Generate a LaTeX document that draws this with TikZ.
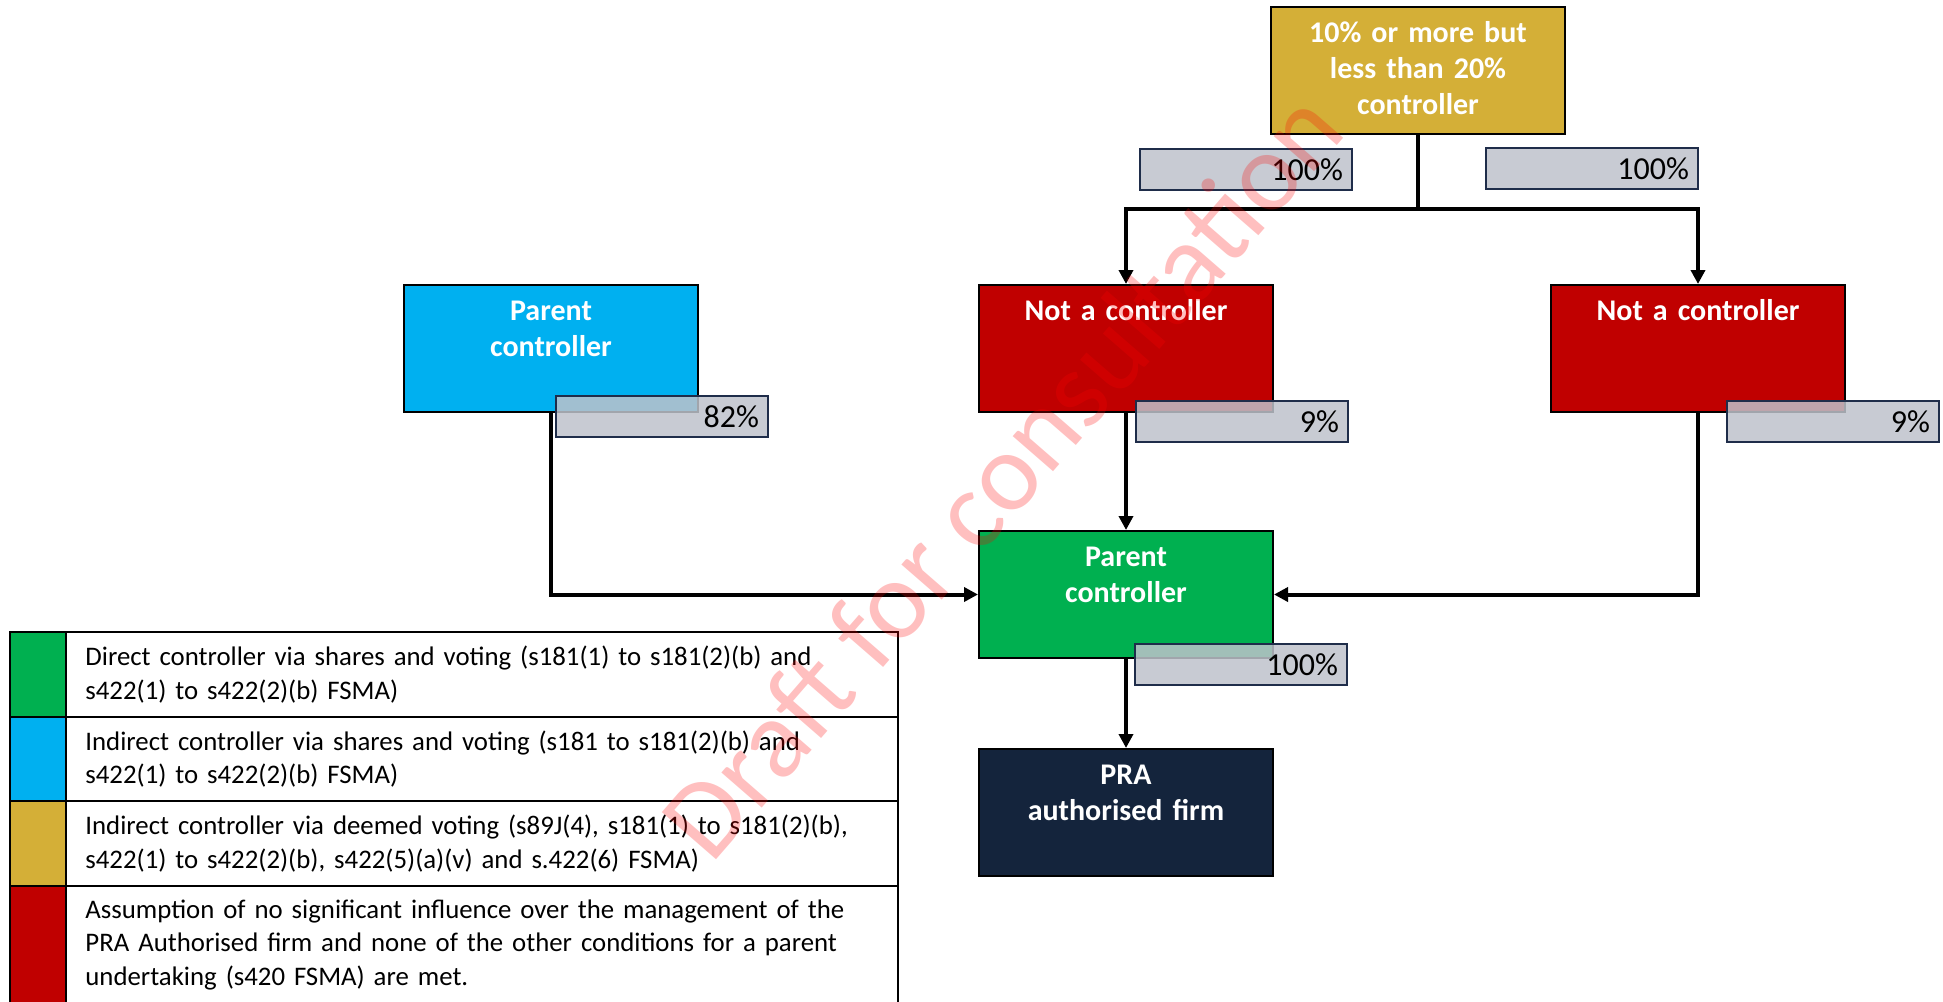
\documentclass[tikz,border=0pt]{standalone}
\usepackage{fontspec}
\setmainfont{Carlito}
\usetikzlibrary{arrows.meta}

\definecolor{ctrlgreen}{HTML}{00B050}
\definecolor{ctrlblue}{HTML}{00B0F0}
\definecolor{ctrlgold}{HTML}{D4AF37}
\definecolor{ctrlred}{HTML}{C00000}
\definecolor{firmnavy}{HTML}{14243C}
\definecolor{pctfill}{RGB}{190,194,203}
\definecolor{pctedge}{HTML}{1F2D4A}

\begin{document}
\begin{tikzpicture}[x=0.5pt,y=-0.5pt,
  entity/.style={draw=black, line width=1pt, minimum width=147pt,
    minimum height=63.5pt, inner sep=0pt, anchor=north west},
  entitytext/.style={text=white, font=\fontsize{15}{18}\selectfont\bfseries,
    align=center, text width=140pt, anchor=base, inner sep=0pt},
  pct/.style={draw=pctedge, line width=1pt, fill=pctfill, fill opacity=0.85,
    text opacity=1, minimum width=106pt, minimum height=20.5pt,
    inner xsep=4.5pt, inner ysep=0pt, text width=97pt, align=right,
    anchor=north west, font=\fontsize{16}{19}\selectfont},
  link/.style={line width=2pt, line join=miter, -{Triangle[length=7pt,width=7pt]}},
  trunk/.style={line width=2pt},
  legtext/.style={font=\fontsize{13.4}{16.75}\selectfont, align=left,
    text width=400pt, anchor=west, inner sep=0pt},
  legrule/.style={line width=1pt}
]
\useasboundingbox (0,0) rectangle (1943,1001);

% ownership chain
\node[entity, fill=ctrlgold] (gold) at (1270,6) {};
\node[entity, fill=ctrlred] (redL) at (978,284) {};
\node[entity, fill=ctrlred] (redR) at (1550,284) {};
\node[entity, fill=ctrlblue] (blue) at (403,284) {};
\node[entity, fill=ctrlgreen] (green) at (978,530) {};
\node[entity, fill=firmnavy] (pra) at (978,748) {};

\node[entitytext] (gold-t) at ([yshift=-18pt]gold.north) {10\% or more but\\less than 20\%\\controller};
\node[entitytext] (redL-t) at ([yshift=-18pt]redL.north) {Not a controller};
\node[entitytext] (redR-t) at ([yshift=-18pt]redR.north) {Not a controller};
\node[entitytext] (blue-t) at ([yshift=-18pt]blue.north) {Parent\\controller};
\node[entitytext] (green-t) at ([yshift=-18pt]green.north) {Parent\\controller};
\node[entitytext] (pra-t) at ([yshift=-18pt]pra.north) {PRA\\authorised firm};

% connectors
\coordinate (split) at (gold.south |- 0,209);
\draw[trunk] (gold.south) -- (split);
\draw[link] (split) -| (redL.north);
\draw[link] (split) -| (redR.north);
\draw[link] (redL.south) -- (green.north);
\draw[link] (blue.south) |- (green.west);
\draw[link] (redR.south) |- (green.east);
\draw[link] (green.south) -- (pra.north);

% holding percentages
\node[pct] (pctL) at (1139,148) {100\%};
\node[pct] (pctR) at (1485,147) {100\%};
\node[pct] (pctBlue) at (555,395) {82\%};
\node[pct] (pctRedL) at (1135,400) {9\%};
\node[pct] (pctRedR) at (1726,400) {9\%};
\node[pct] (pctGreen) at (1134,643) {100\%};

% key
\begin{scope}
\clip (0,0) rectangle (1943,1001);
\fill[ctrlgreen] (10,632) rectangle (66,717);
\fill[ctrlblue] (10,717) rectangle (66,801);
\fill[ctrlgold] (10,801) rectangle (66,886);
\fill[ctrlred] (10,886) rectangle (66,1010);
\draw[legrule] (10,632) rectangle (898,1010);
\draw[legrule] (66,632) -- (66,1010);
\draw[legrule] (10,717) -- (898,717);
\draw[legrule] (10,801) -- (898,801);
\draw[legrule] (10,886) -- (898,886);
\end{scope}
\node[legtext] (key1) at (85,674.5) {Direct controller via shares and voting (s181(1) to s181(2)(b) and\\s422(1) to s422(2)(b) FSMA)};
\node[legtext] (key2) at (85,759) {Indirect controller via shares and voting (s181 to s181(2)(b) and\\s422(1) to s422(2)(b) FSMA)};
\node[legtext] (key3) at (85,843.5) {Indirect controller via deemed voting (s89J(4), s181(1) to s181(2)(b),\\s422(1) to s422(2)(b), s422(5)(a)(v) and s.422(6) FSMA)};
\node[legtext] (key4) at (85,944.5) {Assumption of no significant influence over the management of the\\PRA Authorised firm and none of the other conditions for a parent\\undertaking (s420 FSMA) are met.};

% watermark
\node[rotate=49, text=red, text opacity=0.25, inner sep=0pt,
  font=\fontsize{56}{60}\selectfont] (watermark) at (1001,474) {Draft for consultation};
\end{tikzpicture}
\end{document}
